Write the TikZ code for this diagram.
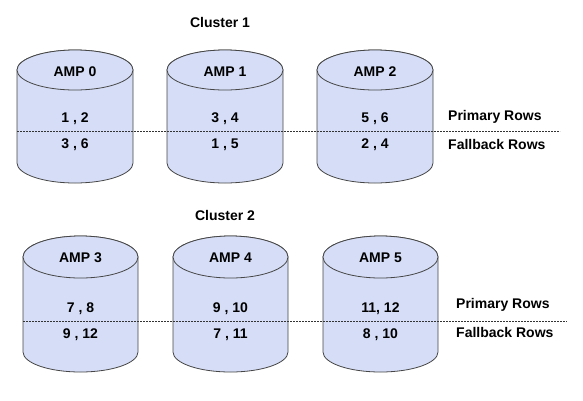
\documentclass[tikz,border=0pt]{standalone}
\usepackage{fontspec}
\setmainfont{Liberation Sans}
\definecolor{diskblue}{RGB}{214,222,247}
\definecolor{diskline}{RGB}{70,70,70}

\begin{document}
\begin{tikzpicture}[x=1pt,y=-1pt,
    disk/.style={fill=diskblue,draw=diskline,line width=0.8pt},
    txt/.style={font=\bfseries\fontsize{14}{16}\selectfont,inner sep=0pt,
      text height=10pt,text depth=0pt},
    rowline/.style={draw=black!80,line width=0.6pt,dash pattern=on 2pt off 1pt}]
  \useasboundingbox (0,0) rectangle (583,400);

  % Draw cluster titles
  \node[txt] (cluster1) at (220,22) {Cluster 1};
  \node[txt] (cluster2) at (225,215) {Cluster 2};

  % Draw the disks of cluster 1
  \foreach \n/\l/\p/\f in {0/17/{1 , 2}/{3 , 6},1/167/{3 , 4}/{1 , 5},2/317/{5 , 6}/{2 , 4}}{
    \filldraw[disk] (\l,70) -- (\l,163)
      arc[start angle=180,end angle=360,x radius=58pt,y radius=20pt]
      -- (\l+116,70)
      arc[start angle=0,end angle=180,x radius=58pt,y radius=20pt] -- cycle;
    \draw[disk] (\l+58,70) ellipse [x radius=58pt,y radius=20pt];
    \node[txt] (amp\n) at (\l+58,71) {AMP \n};
    \node[txt] (pri\n) at (\l+58,117) {\p};
    \node[txt] (fb\n) at (\l+58,143) {\f};
  }

  % Draw the disks of cluster 2
  \foreach \n/\l/\p/\f in {3/23/{7 , 8}/{9 , 12},4/173/{9 , 10}/{7 , 11},5/323/{11, 12}/{8 , 10}}{
    \filldraw[disk] (\l,257) -- (\l,352)
      arc[start angle=180,end angle=360,x radius=57.5pt,y radius=20pt]
      -- (\l+115,257)
      arc[start angle=0,end angle=180,x radius=57.5pt,y radius=21pt] -- cycle;
    \draw[disk] (\l+57.5,257) ellipse [x radius=57.5pt,y radius=21pt];
    \node[txt] (amp\n) at (\l+57.5,257) {AMP \n};
    \node[txt] (pri\n) at (\l+57.5,307) {\p};
    \node[txt] (fb\n) at (\l+57.5,333) {\f};
  }

  % Draw the split between primary and fallback rows
  \coordinate (split1_l) at (17,131);
  \coordinate (split1_r) at (560,131);
  \coordinate (split2_l) at (23,321);
  \coordinate (split2_r) at (567,321);
  \draw[rowline] (split1_l) -- (split1_r);
  \draw[rowline] (split2_l) -- (split2_r);

  \node[txt,anchor=west] (primary1) at (448,115) {Primary Rows};
  \node[txt,anchor=west] (fallback1) at (448,144) {Fallback Rows};
  \node[txt,anchor=west] (primary2) at (456,303) {Primary Rows};
  \node[txt,anchor=west] (fallback2) at (456,332) {Fallback Rows};
\end{tikzpicture}
\end{document}
